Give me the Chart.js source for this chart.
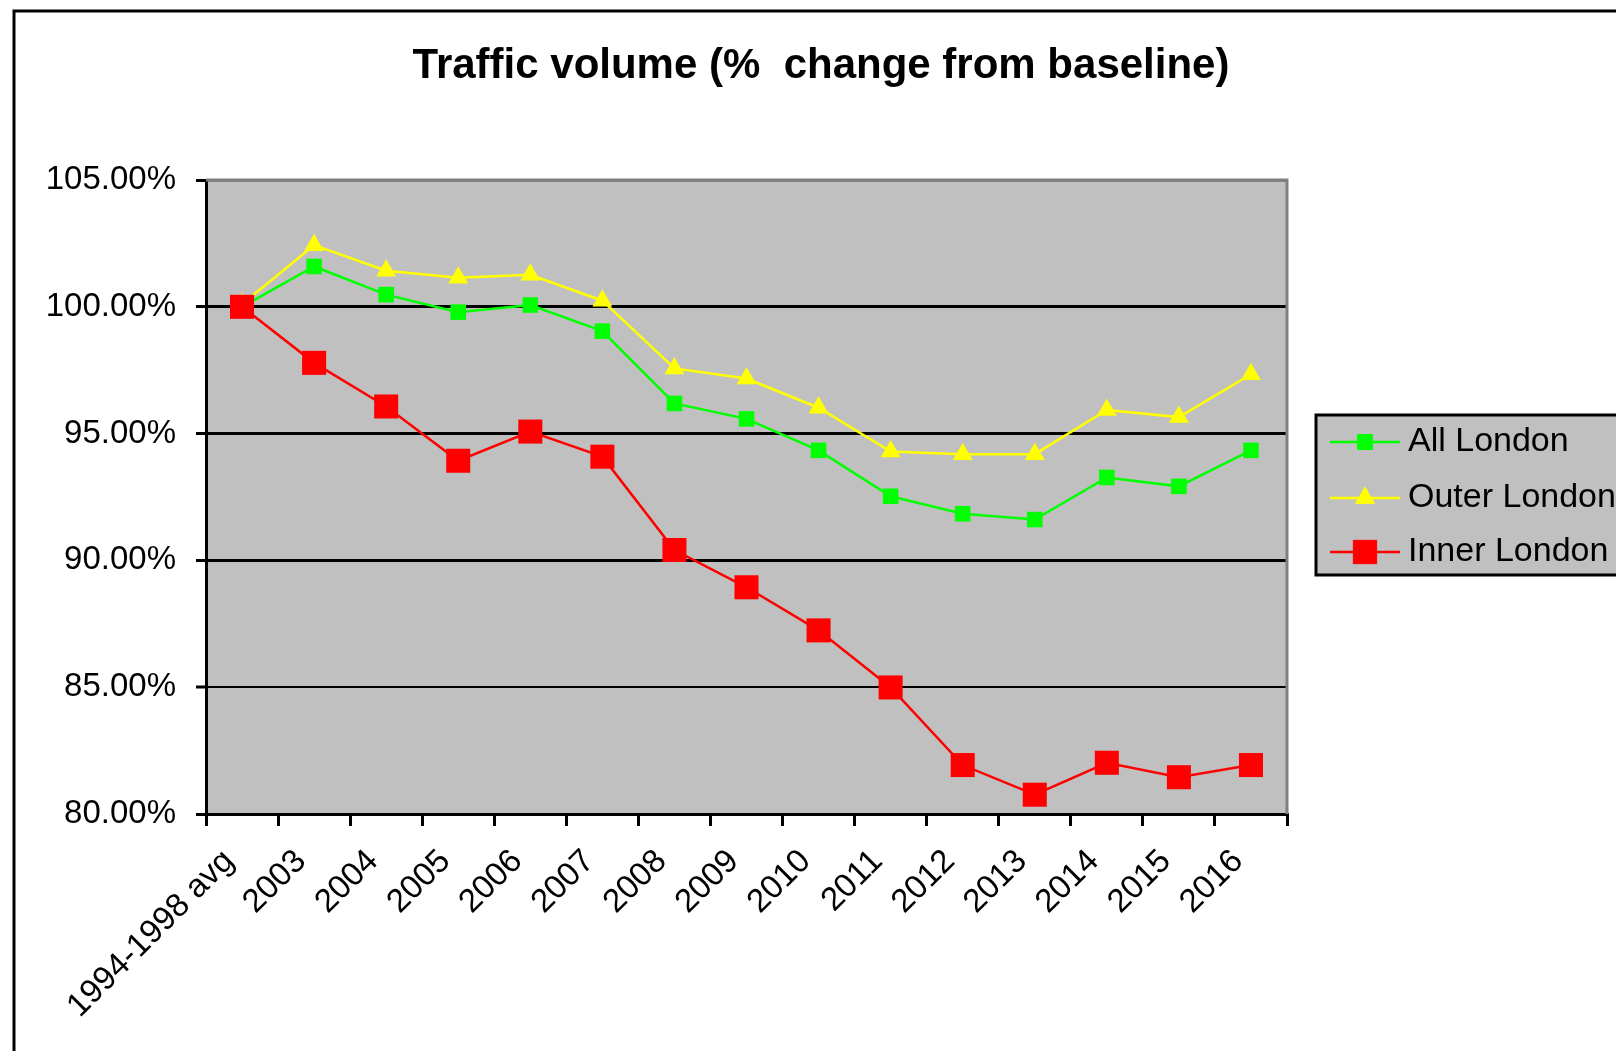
<!DOCTYPE html>
<html><head><meta charset="utf-8">
<script src="https://cdn.jsdelivr.net/npm/chart.js@4/dist/chart.umd.min.js"></script>
<style>html,body{margin:0;padding:0;background:#fff;overflow:hidden}#wrap{width:1616px;height:1051px;position:relative}</style>
</head><body><div id="wrap"><canvas id="c" width="1616" height="1051"></canvas></div>
<script>
const titleText = 'Traffic volume (%  change from baseline)';
const categories = ['1994-1998 avg','2003','2004','2005','2006','2007','2008','2009','2010','2011','2012','2013','2014','2015','2016'];
const allLondon   = [100.00, 101.59, 100.48, 99.79, 100.07, 99.04, 96.19, 95.58, 94.34, 92.53, 91.84, 91.61, 93.27, 92.92, 94.34];
const outerLondon = [100.10, 102.43, 101.42, 101.15, 101.26, 100.24, 97.57, 97.17, 96.02, 94.29, 94.19, 94.19, 95.93, 95.65, 97.34];
const innerLondon = [100.00, 97.79, 96.07, 93.93, 95.08, 94.09, 90.41, 88.94, 87.24, 84.99, 81.93, 80.76, 82.02, 81.45, 81.93];
const yMin = 80, yMax = 105, yStep = 5;

const FONT = "'Liberation Sans', Arial, sans-serif";

function drawMarker(ctx, style, radius, x, y, color) {
  ctx.save();
  ctx.fillStyle = color; ctx.strokeStyle = color; ctx.lineWidth = 1;
  if (Chart.helpers && Chart.helpers.drawPoint) {
    Chart.helpers.drawPoint(ctx, {pointStyle: style, rotation: 0, radius: radius, borderWidth: 1}, x, y);
  } else {
    ctx.beginPath();
    if (style === 'triangle') {
      ctx.moveTo(x, y - radius); ctx.lineTo(x + radius*0.866, y + radius/2); ctx.lineTo(x - radius*0.866, y + radius/2);
    } else {
      const s = radius * Math.SQRT1_2; ctx.rect(x - s, y - s, 2*s, 2*s);
    }
    ctx.closePath(); ctx.fill(); ctx.stroke();
  }
  ctx.restore();
}

const framePlugin = {
  id: 'frame',
  beforeDraw(chart) {
    const ctx = chart.ctx, a = chart.chartArea;
    ctx.save();
    ctx.fillStyle = '#ffffff';
    ctx.fillRect(0, 0, chart.width, chart.height);
    ctx.fillStyle = '#C0C0C0';
    ctx.fillRect(a.left, a.top, a.right - a.left, a.bottom - a.top);
    ctx.strokeStyle = '#000'; ctx.lineWidth = 3;
    ctx.beginPath();
    ctx.moveTo(14, chart.height); ctx.lineTo(14, 11); ctx.lineTo(chart.width, 11);
    ctx.stroke();
    ctx.restore();
  },
  afterDraw(chart) {
    const ctx = chart.ctx, a = chart.chartArea;
    ctx.save();
    ctx.strokeStyle = '#808080'; ctx.lineWidth = 3;
    ctx.beginPath();
    ctx.moveTo(a.left, a.top); ctx.lineTo(a.right, a.top); ctx.lineTo(a.right, a.bottom);
    ctx.stroke();
    ctx.fillStyle = '#000';
    ctx.font = 'bold 42px ' + FONT;
    ctx.textAlign = 'center'; ctx.textBaseline = 'middle';
    ctx.fillText(titleText, 821, 66);
    const lx = 1316, ly = 415, lw = 330, lh = 160;
    ctx.fillStyle = '#C0C0C0';
    ctx.fillRect(lx, ly, lw, lh);
    ctx.strokeStyle = '#000'; ctx.lineWidth = 3;
    ctx.strokeRect(lx, ly, lw, lh);
    const rows = [442, 498, 552];
    const sizes = [10.5, 11, 16.5];
    chart.data.datasets.forEach((ds, i) => {
      const y = rows[i];
      ctx.strokeStyle = ds.borderColor; ctx.lineWidth = 2.5;
      ctx.beginPath(); ctx.moveTo(1330, y); ctx.lineTo(1400, y); ctx.stroke();
      drawMarker(ctx, ds.pointStyle, sizes[i], 1365, y, ds.backgroundColor);
      ctx.fillStyle = '#000';
      ctx.font = '34px ' + FONT;
      ctx.textAlign = 'left'; ctx.textBaseline = 'middle';
      ctx.fillText(ds.label, 1408, y);
    });
    ctx.restore();
  }
};

new Chart(document.getElementById('c'), {
  type: 'line',
  data: {
    labels: categories,
    datasets: [
      {label: 'All London', data: allLondon, borderColor: '#00FF00', backgroundColor: '#00FF00', borderWidth: 2.5,
       pointStyle: 'rect', pointRadius: 11, pointBorderWidth: 0, order: 1, tension: 0},
      {label: 'Outer London', data: outerLondon, borderColor: '#FFFF00', backgroundColor: '#FFFF00', borderWidth: 2.5,
       pointStyle: 'triangle', pointRadius: 11.5, pointBorderWidth: 0, order: 2, tension: 0},
      {label: 'Inner London', data: innerLondon, borderColor: '#FF0000', backgroundColor: '#FF0000', borderWidth: 2.5,
       pointStyle: 'rect', pointRadius: 17, pointBorderWidth: 0, order: 0, tension: 0}
    ]
  },
  options: {
    responsive: false,
    devicePixelRatio: 1,
    animation: false,
    layout: {padding: {top: 180, right: 329, left: 0, bottom: 0}},
    plugins: {legend: {display: false}, title: {display: false}, tooltip: {enabled: false}},
    scales: {
      x: {
        offset: true,
        grid: {offset: true, drawOnChartArea: false, drawTicks: true, tickLength: 12, color: '#000', lineWidth: 3},
        border: {display: true, color: '#000', width: 3},
        ticks: {maxRotation: 45, minRotation: 45, autoSkip: false, color: '#000', font: {family: FONT, size: 33},
                padding: 16, labelOffset: -13},
        afterFit(s) { s.height = 237; s.paddingLeft = 0; s.paddingRight = 0; }
      },
      y: {
        min: yMin, max: yMax,
        grid: {color: c => (c.tick && c.tick.value === yMax) ? '#808080' : '#000',
               lineWidth: c => (c.tick && c.tick.value === 85) ? 2 : 3,
               tickLength: 10, tickColor: '#000', tickWidth: 3},
        border: {display: true, color: '#000', width: 3},
        ticks: {stepSize: yStep, color: '#000', font: {family: FONT, size: 33}, padding: 20,
                callback: v => v.toFixed(2) + '%'},
        afterFit(s) { s.width = 206; }
      }
    }
  },
  plugins: [framePlugin]
});
</script>
</body></html>
